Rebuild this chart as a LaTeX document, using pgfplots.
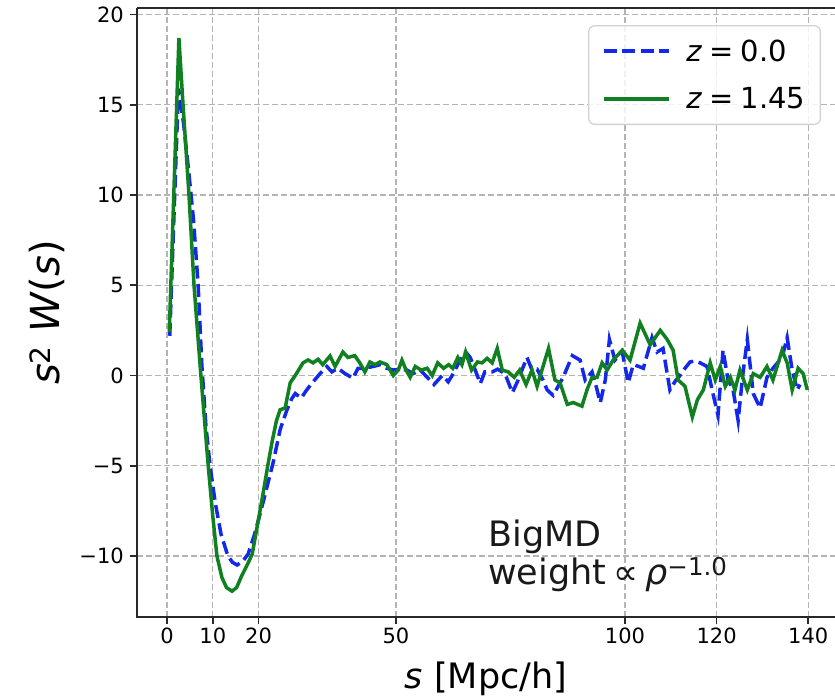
\documentclass[border=0pt]{standalone}
\usepackage{fontspec}
\setmainfont{DejaVu Sans}
\usepackage{pgfplots}
\pgfplotsset{compat=1.18}
\definecolor{mblue}{RGB}{20,40,235}
\definecolor{mgreen}{RGB}{16,128,32}
\definecolor{gridgray}{RGB}{180,180,180}
\definecolor{spine}{RGB}{40,40,40}
\pgfplotstableread{
s v
0.6 2.2
2.5 15.9
3.6 14.0
4.7 11.4
5.8 8.6
6.8 5.0
7.6 0.6
8.5 -2.8
9.4 -5.0
10.5 -7.0
11.8 -8.8
13.3 -10.0
14.3 -10.35
15.3 -10.5
16.5 -10.3
17.7 -9.9
19.0 -8.9
20.4 -7.6
21.8 -6.2
23.2 -4.8
24.7 -3.0
26.2 -1.9
27.2 -1.3
28.0 -1.0
29.3 -1.25
30.5 -0.8
31.9 -0.35
33.4 0.1
34.9 0.5
36.0 0.2
37.3 0.4
38.9 0.1
40.6 -0.15
41.7 0.4
43.2 0.4
45.0 0.5
46.5 0.6
48.0 0.4
49.4 0.3
50.9 0.35
52.4 0.3
53.7 0.1
55.3 0.3
56.8 -0.1
58.3 -0.5
60.1 0.0
61.4 -0.35
62.5 0.1
64.0 0.85
65.2 1.3
66.2 1.0
67.3 0.3
68.4 -0.45
69.4 0.2
71.0 0.2
72.2 0.35
73.8 0.1
75.4 -0.95
76.5 -0.35
77.5 0.3
78.6 1.0
79.7 0.3
80.8 0.35
82.0 -0.2
83.0 -0.8
84.3 -1.1
85.4 -0.6
86.5 -0.1
87.5 0.5
88.5 1.1
90.2 0.85
91.3 -0.25
92.8 0.2
93.7 -0.6
94.6 -1.5
95.7 -0.25
96.6 2.0
97.8 0.85
99.4 1.3
100.7 -0.4
101.8 0.6
103.0 0.5
104.0 0.4
105.9 2.1
107.0 1.3
108.3 1.5
109.8 -0.8
111.0 -0.3
112.0 0.0
113.1 0.4
114.2 0.75
115.3 0.8
116.4 0.7
117.9 0.5
119.2 -1.0
120.3 -2.2
121.4 1.4
122.5 -0.25
123.6 -0.8
124.7 -2.5
125.7 0.0
126.7 2.0
128.0 -1.0
129.5 -1.8
131.0 -0.1
132.3 0.4
134.3 1.0
135.4 2.1
136.5 0.3
137.6 -0.8
138.2 -0.5
}\zzero
\pgfplotstableread{
s v
0.5 2.4
2.6 18.7
3.5 15.0
4.8 10.0
5.9 5.0
7.4 0.0
8.2 -2.5
9.0 -5.0
10.0 -7.8
10.9 -10.0
12.0 -11.2
13.0 -11.75
14.2 -11.95
15.2 -11.75
16.3 -11.1
17.5 -10.5
18.6 -9.9
19.6 -8.5
20.8 -6.8
22.0 -5.0
23.0 -3.6
23.9 -2.5
24.7 -1.9
25.8 -1.8
26.9 -0.4
28.0 0.0
29.7 0.7
30.8 0.86
31.9 0.7
33.0 0.9
34.0 0.6
35.6 1.08
36.7 0.5
38.4 1.3
39.5 1.0
41.0 1.1
42.1 0.7
43.2 0.2
44.3 0.75
45.4 0.6
46.5 0.75
48.0 0.6
49.4 0.0
50.5 0.3
51.3 0.85
52.2 0.3
53.1 -0.1
54.2 0.5
55.5 0.3
56.8 0.4
57.9 0.0
59.1 0.7
60.4 0.4
61.5 0.6
62.4 0.4
63.5 1.0
64.4 0.6
65.2 1.3
66.5 0.3
67.8 0.75
68.8 0.7
69.9 0.95
71.0 0.7
72.1 1.5
73.2 0.3
74.5 0.2
75.8 -0.1
77.0 0.3
78.4 -0.5
79.7 0.3
80.8 -0.6
82.1 0.5
83.3 1.5
84.7 -0.25
85.8 -0.4
87.4 -1.6
88.7 -1.5
90.6 -1.7
91.7 -0.8
92.8 -0.1
93.9 -0.1
95.0 0.7
96.1 0.3
97.4 0.85
99.4 1.4
101.1 0.85
103.3 2.9
105.5 1.7
107.7 2.5
109.2 2.0
110.5 1.4
111.6 -0.25
113.1 -0.6
114.7 -2.3
115.8 -1.35
117.1 -0.8
118.6 0.7
119.7 -0.25
120.8 0.5
121.9 -0.6
123.0 -0.1
124.0 -0.8
125.1 0.3
126.7 -0.8
128.0 0.1
129.5 -0.1
131.0 0.5
132.3 -0.25
134.3 1.4
135.4 0.7
136.5 -0.8
137.8 0.4
138.9 0.1
139.8 -0.8
}\zone
\begin{document}
\begin{tikzpicture}
\useasboundingbox (-137pt,-81pt) rectangle (698pt,617pt);
\begin{axis}[
  at={(0pt,0pt)}, anchor=south west,
  scale only axis, width=698pt, height=609pt,
  xmin=-6.55, xmax=145.85, ymin=-13.38, ymax=20.36,
  clip mode=individual,
  axis line style={draw=none},
  xtick={0,10,20,50,100,120,140}, xticklabels={0,10,20,50,100,120,140},
  ytick={-10,-5,0,5,10,15,20}, yticklabels={−10,−5,0,5,10,15,20},
  tick align=outside, xtick pos=bottom, ytick pos=left,
  major tick length=7pt,
  tick style={spine, line width=1.6pt},
  grid=major,
  grid style={gridgray, dash pattern=on 6pt off 3pt, line width=1.3pt},
  ticklabel style={font=\fontsize{21}{25}\selectfont, text=black},
  xticklabel style={anchor=north, inner sep=0pt, yshift=-4pt},
  yticklabel style={anchor=east, inner sep=0pt, xshift=-6pt},
  xlabel={\textit{s} [Mpc/h]},
  xlabel style={font=\fontsize{35}{42}\selectfont, at={([yshift=-71pt]axis description cs:0.5,0)}, anchor=base, inner sep=0pt},
  ylabel={\textit{s}\textsuperscript{2} \textit{W}(\textit{s})},
  ylabel style={font=\fontsize{40}{48}\selectfont, at={([xshift=-77pt]axis description cs:0,0.5)}, anchor=base, inner sep=0pt},
  legend style={at={(rel axis cs:0.980,0.972)}, anchor=north east,
    draw=gray!35, line width=1.3pt, rounded corners=6pt,
    fill=white, fill opacity=0.8, text opacity=1,
    font=\fontsize{29}{34}\selectfont, inner xsep=13pt, inner ysep=12pt,
    row sep=21pt, /tikz/every odd column/.append style={column sep=14pt}},
  legend cell align=left,
  legend image code/.code={\draw[#1] (0pt,0pt) -- (65pt,0pt);},
]
\addplot[mblue, line width=3.5pt, dash pattern=on 13pt off 5.5pt] table[x=s,y=v] {\zzero};
\addlegendentry{\textit{z}\hspace{0.25em}=\hspace{0.25em}0.0}
\addplot[mgreen, line width=3.5pt] table[x=s,y=v] {\zone};
\addlegendentry{\textit{z}\hspace{0.25em}=\hspace{0.25em}1.45}
\draw[spine, line width=2pt] (rel axis cs:0,1) -- (rel axis cs:0,0) -- (rel axis cs:1,0);
\draw[spine, line width=2pt] (rel axis cs:0,1) -- (rel axis cs:1,1);
\node[anchor=base west, font=\fontsize{35}{42}\selectfont, inner sep=0pt, text=black!90] at (axis cs:70.1,-9.5) {BigMD};
\node[anchor=base west, font=\fontsize{35}{42}\selectfont, inner sep=0pt, text=black!90] at (axis cs:70.1,-11.6) {weight\hspace{0.2em}∝\hspace{0.2em}\textit{ρ}\textsuperscript{−1.0}};
\end{axis}
\end{tikzpicture}
\end{document}
